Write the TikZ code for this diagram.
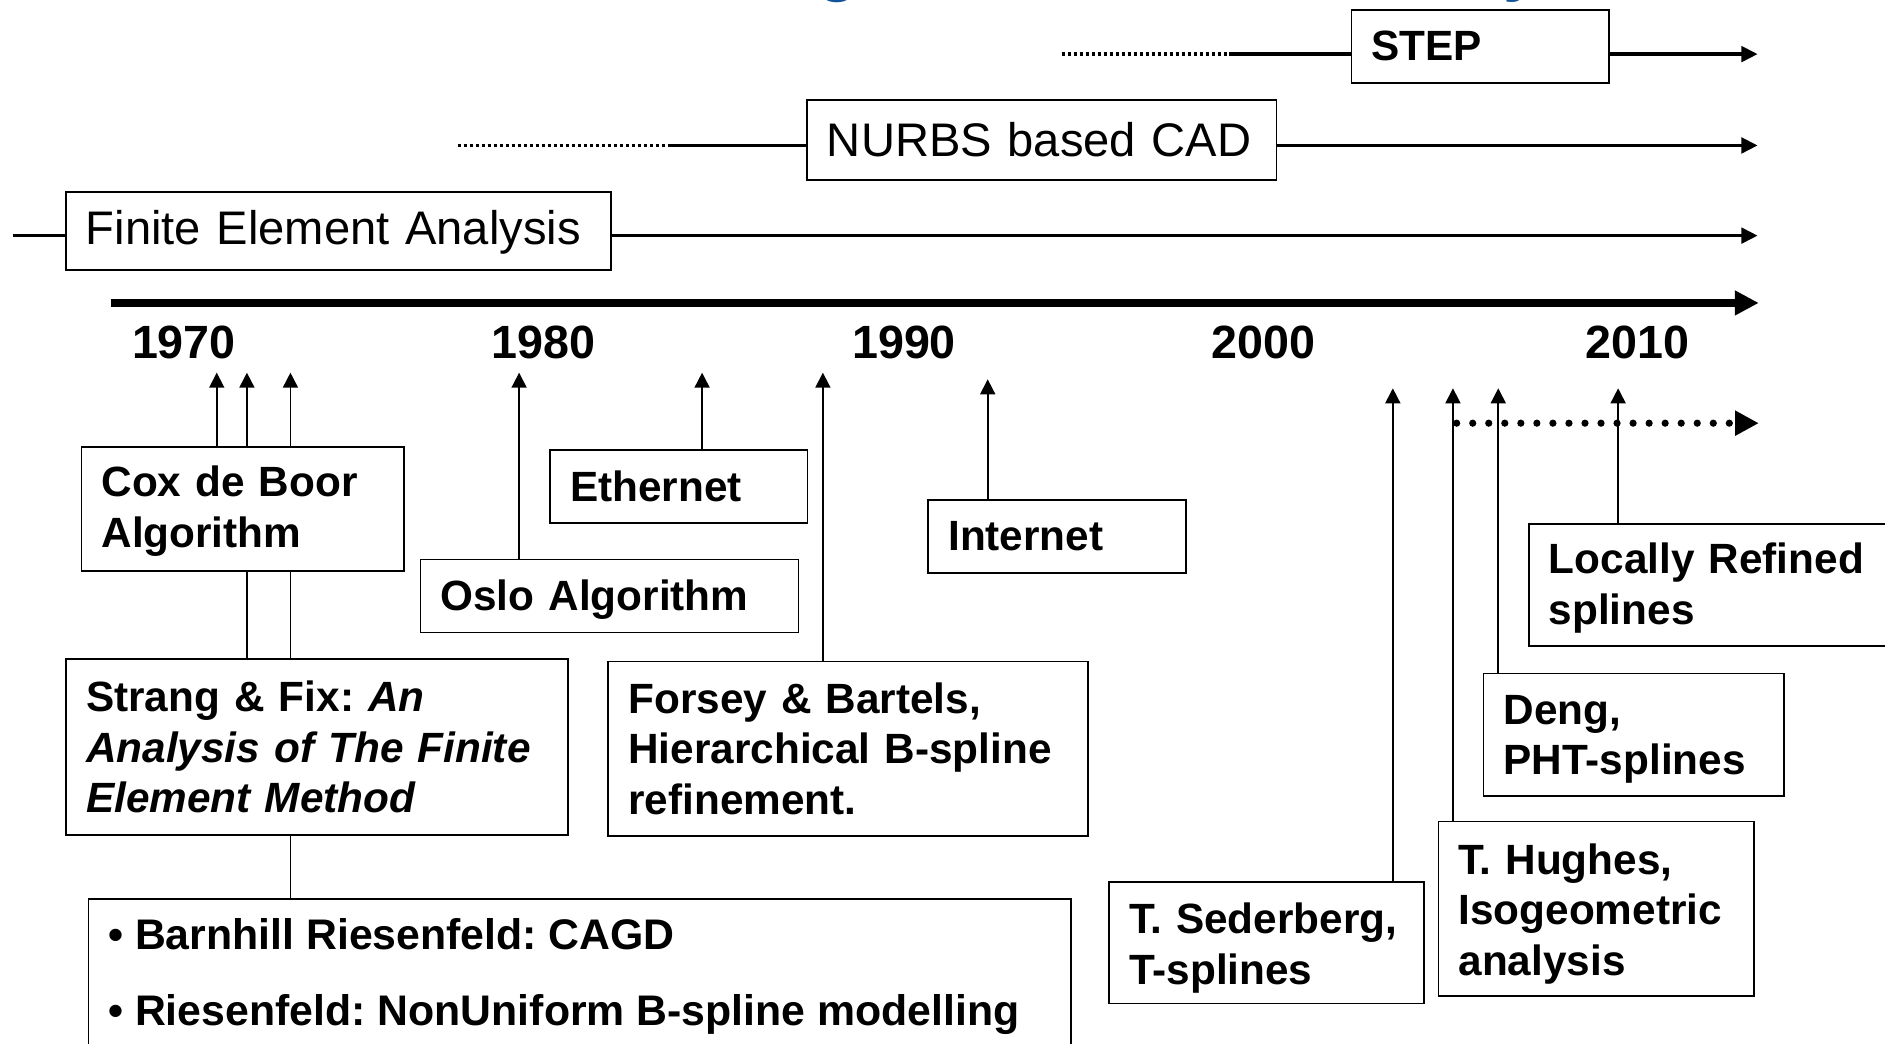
\documentclass[tikz,border=0pt]{standalone}
\usepackage{fontspec}
\setmainfont{Liberation Sans}
\usetikzlibrary{arrows.meta}
\definecolor{titleblue}{RGB}{18,82,152}
\frenchspacing
\begin{document}
\begin{tikzpicture}[x=0.5pt,y=-0.5pt,
  bx/.style={draw=black, line width=0.75pt, anchor=north west, inner xsep=8.3pt, inner ysep=0pt, align=left, font=\bfseries\fontsize{17.6}{21}\selectfont},
  rbx/.style={bx, font=\fontsize{19.6}{23}\selectfont},
  dn/.style={execute at begin node={\rule{0pt}{#1}}},
  varrow/.style={line width=0.7pt, -{Triangle[length=6.25pt,width=6.25pt]}},
  vline/.style={line width=0.7pt},
  harrow/.style={line width=1.35pt, -{Triangle[length=6.75pt,width=6.5pt]}},
  hline/.style={line width=1.35pt},
  fdots/.style={line width=1.5pt, dash pattern=on 1.3pt off 1.2pt},
  axisline/.style={line width=3.15pt, -{Triangle[length=10pt,width=9.8pt]}},
  bigdots/.style={line width=3pt, line cap=round, dash pattern=on 0pt off 6.67pt, -{Triangle[length=9.85pt,width=9.85pt]}},
  year/.style={font=\bfseries\fontsize{19.4}{23}\selectfont, anchor=base, inner sep=0pt},
  titlefrag/.style={font=\bfseries\fontsize{28}{30}\selectfont, text=titleblue, anchor=base, inner sep=0pt},
  bul/.style={font=\bfseries\fontsize{17.8}{21}\selectfont, anchor=base west, inner sep=0pt},
]
\useasboundingbox (0,0) rectangle (1568,868);
\clip (0,0) rectangle (1568,868);

% cut-off title descenders
\node[titlefrag] (tg) at (697.5,-9.3) {g};
\node[titlefrag] (ty) at (1266,-9.3) {y};

% top bars
\node[bx, minimum width=107.15pt, minimum height=30.25pt, text width=90.5pt] (step) at (1123.5,7.5) {STEP};
\node[rbx, minimum width=195.25pt, minimum height=33.2pt, text width=178.6pt] (nurbs) at (670.5,82.6) {NURBS based CAD};
\node[rbx, dn=15.4pt, minimum width=226.75pt, minimum height=32.5pt, text width=210.1pt] (fea) at (54,159) {Finite Element Analysis};

\coordinate (s0) at (883,45);
\coordinate (s1) at (1022,45);
\coordinate (s2) at (1462,45);
\draw[fdots] (s0) -- (s1);
\draw[hline] (s1) -- (s1 -| step.west);
\draw[harrow] (step.east |- s2) -- (s2);

\coordinate (n0) at (380.6,121);
\coordinate (n1) at (557,121);
\coordinate (n2) at (1462,121);
\draw[fdots] (n0) -- (n1);
\draw[hline] (n1) -- (n1 -| nurbs.west);
\draw[harrow] (nurbs.east |- n2) -- (n2);

\coordinate (f0) at (10.5,196);
\coordinate (f1) at (1462,196);
\draw[hline] (f0) -- (f0 -| fea.west);
\draw[harrow] (fea.east |- f1) -- (f1);

% time axis
\coordinate (ax0) at (92,252);
\coordinate (ax1) at (1463,252);
\draw[axisline] (ax0) -- (ax1);
\node[year] (y1970) at (153,298) {1970};
\node[year] (y1980) at (452,298) {1980};
\node[year] (y1990) at (752,298) {1990};
\node[year] (y2000) at (1051,298) {2000};
\node[year] (y2010) at (1362,298) {2010};

% event boxes
\node[bx, dn=14.6pt, minimum width=134.25pt, minimum height=51.5pt, text width=117.6pt] (cox) at (67,371) {Cox de Boor\\Algorithm};
\node[bx, minimum width=107pt, minimum height=30.5pt, text width=90.4pt] (eth) at (457,373.5) {Ethernet};
\node[bx, dn=15.6pt, minimum width=157.25pt, minimum height=30.35pt, text width=140.6pt] (oslo) at (349,464.7) {Oslo Algorithm};
\node[bx, minimum width=107.15pt, minimum height=30.5pt, text width=90.5pt] (inet) at (771.4,415) {Internet};
\node[bx, minimum width=208.85pt, minimum height=73.05pt, text width=192.2pt] (strang) at (54.3,547.6) {Strang \& Fix: \textit{An}\\\textit{Analysis of The Finite}\\\textit{Element Method}};
\node[bx, minimum width=199.6pt, minimum height=72.55pt, text width=183pt] (forsey) at (505.3,549.5) {Forsey \& Bartels,\\Hierarchical B-spline\\refinement.};
\node[draw=black, line width=0.75pt, anchor=north west, minimum width=408.5pt, minimum height=100pt, inner sep=0pt] (barn) at (72.9,747) {};
\node[bul] (barn1) at (89.5,790) {•\hspace{5pt}Barnhill Riesenfeld: CAGD};
\node[bul] (barn2) at (89.5,853) {•\hspace{5pt}Riesenfeld: NonUniform B-spline modelling};
\node[bx, dn=17.4pt, minimum width=130.9pt, minimum height=50.6pt, text width=114.3pt] (seder) at (921.8,732.8) {T. Sederberg,\\T-splines};
\node[bx, dn=17pt, minimum width=131.3pt, minimum height=72.65pt, text width=114.7pt] (hughes) at (1195.9,682.6) {T. Hughes,\\Isogeometric\\analysis};
\node[bx, dn=16pt, minimum width=124.9pt, minimum height=50.9pt, text width=108.3pt] (deng) at (1233.3,559.5) {Deng,\\PHT-splines};
\node[bx, dn=15.6pt, minimum width=165pt, minimum height=50.85pt, text width=148.4pt] (lr) at (1271,434.8) {Locally Refined\\splines};

% arrow tips on the time axis side
\coordinate (a1) at (180.3,310);
\coordinate (a2) at (205.4,310);
\coordinate (a3) at (241.6,310);
\coordinate (a4) at (431.8,310);
\coordinate (a5) at (584,310);
\coordinate (a6) at (684.5,310);
\coordinate (a7) at (821.6,315.5);
\coordinate (a8) at (1158.6,323);
\coordinate (a9) at (1208.6,323);
\coordinate (a10) at (1246.3,323);
\coordinate (a11) at (1346,323);

\draw[varrow] (a1 |- cox.north) -- (a1);
\draw[varrow] (a2 |- cox.north) -- (a2);
\draw[varrow] (a3 |- cox.north) -- (a3);
\draw[vline] (a2 |- strang.north) -- (a2 |- cox.south);
\draw[vline] (a3 |- strang.north) -- (a3 |- cox.south);
\draw[vline] (a3 |- barn.north) -- (a3 |- strang.south);
\draw[varrow] (a4 |- oslo.north) -- (a4);
\draw[varrow] (a5 |- eth.north) -- (a5);
\draw[varrow] (a6 |- forsey.north) -- (a6);
\draw[varrow] (a7 |- inet.north) -- (a7);
\draw[varrow] (a8 |- seder.north) -- (a8);
\draw[varrow] (a9 |- hughes.north) -- (a9);
\draw[varrow] (a10 |- deng.north) -- (a10);
\draw[varrow] (a11 |- lr.north) -- (a11);

% dotted continuation
\coordinate (d0) at (1211.7,352);
\coordinate (d1) at (1463,352);
\draw[bigdots] (d0) -- (d1);
\end{tikzpicture}
\end{document}
